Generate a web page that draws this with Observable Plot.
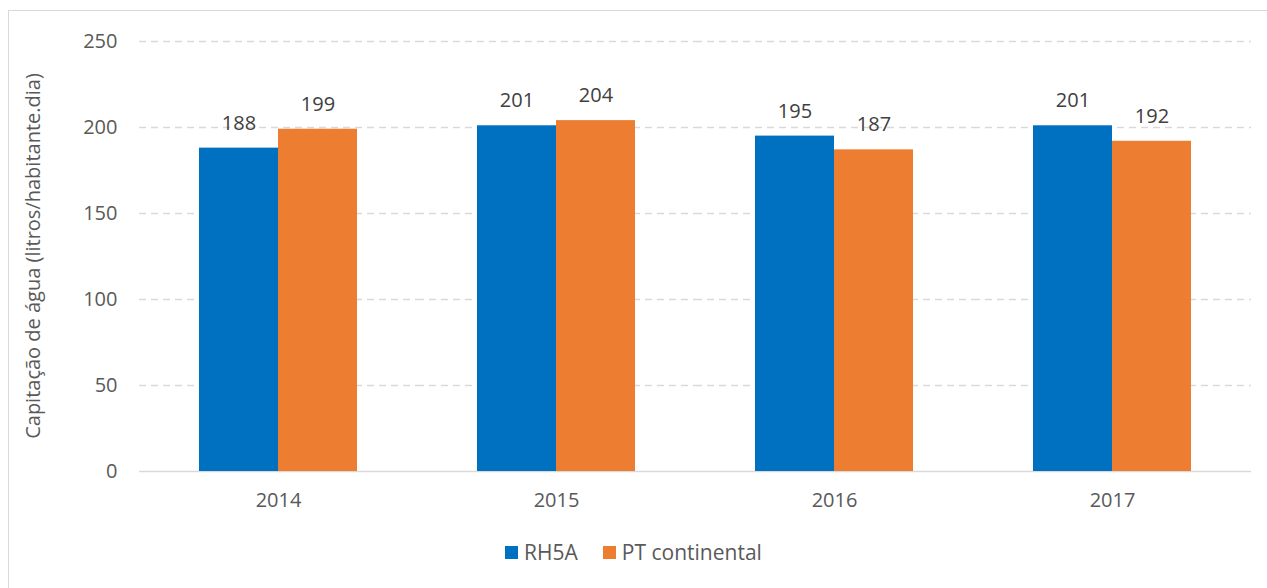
<!DOCTYPE html>
<html>
<head>
<meta charset="utf-8">
<script src="https://cdn.jsdelivr.net/npm/d3@7"></script>
<script src="https://cdn.jsdelivr.net/npm/@observablehq/plot@0.6"></script>
<style>
  html, body { margin: 0; padding: 0; width: 1267px; height: 588px; overflow: hidden; background: #fff; }
  body { position: relative; font-family: "Open Sans", "Noto Sans", sans-serif; color: #595959; }
  #frame { position: absolute; left: 8px; top: 10px; width: 1280px; height: 600px; border: 1px solid #d9d9d9; box-sizing: border-box; }
  #chart { position: absolute; left: 0; top: 0; }
  #legend { position: absolute; left: 0; top: 538px; width: 1267px; display: flex; justify-content: center; gap: 25px; font-size: 21px; color: #595959; }
  .item { display: flex; align-items: center; gap: 6px; }
  .sw { width: 13px; height: 13px; display: inline-block; }
</style>
</head>
<body>
<div id="frame"></div>
<div id="chart"></div>
<div id="legend"></div>
<script>
const years = ["2014", "2015", "2016", "2017"];
const seriesNames = ["RH5A", "PT continental"];
const rh5a = [188, 201, 195, 201];
const ptContinental = [199, 204, 187, 192];
const colors = ["#0070C0", "#ED7D31"];
const yTicks = [0, 50, 100, 150, 200, 250];
const yLabel = "Capitação de água (litros/habitante.dia)";

const data = [];
years.forEach((yr, i) => {
  data.push({year: yr, series: seriesNames[0], value: rh5a[i]});
  data.push({year: yr, series: seriesNames[1], value: ptContinental[i]});
});

const FS = 20;
const plot = Plot.plot({
  width: 1267,
  height: 520,
  marginLeft: 138,
  marginRight: 15,
  marginTop: 41,
  marginBottom: 49,
  style: {fontFamily: '"Open Sans", "Noto Sans", sans-serif', fontSize: FS + "px", color: "#595959", background: "transparent"},
  fx: {domain: years, padding: 0, label: null, axis: null},
  x: {domain: seriesNames, paddingInner: 0, paddingOuter: 0.74, axis: null},
  y: {domain: [0, 250], label: null, axis: null},
  color: {domain: seriesNames, range: colors},
  marks: [
    Plot.ruleY(yTicks.filter(d => d > 0), {stroke: "#d9d9d9", strokeWidth: 1.3, strokeDasharray: "7,5"}),
    Plot.ruleY([0], {stroke: "#d9d9d9", strokeWidth: 1.3}),
    Plot.barY(data, {fx: "year", x: "series", y: "value", fill: "series", inset: 0}),
    Plot.text(data, {fx: "year", x: "series", y: "value", text: d => String(d.value), dy: -25, fill: "#404040", fontSize: FS}),
    Plot.axisY({ticks: yTicks, tickSize: 0, tickPadding: 22, label: null, facetAnchor: "left", fill: "#595959", fontSize: FS}),
    Plot.axisFx({anchor: "bottom", tickSize: 0, tickPadding: 21, label: null, fill: "#595959", fontSize: FS})
  ]
});
document.getElementById("chart").appendChild(plot);

const svg = d3.select(plot);
svg.append("text")
  .attr("transform", `translate(35, ${(41 + 471) / 2}) rotate(-90)`)
  .attr("text-anchor", "middle")
  .attr("dominant-baseline", "middle")
  .attr("fill", "#595959")
  .style("font-size", "20px")
  .text(yLabel);

const legend = document.getElementById("legend");
seriesNames.forEach((s, i) => {
  const item = document.createElement("div");
  item.className = "item";
  const sw = document.createElement("span");
  sw.className = "sw";
  sw.style.background = colors[i];
  const t = document.createElement("span");
  t.textContent = s;
  item.appendChild(sw);
  item.appendChild(t);
  legend.appendChild(item);
});
</script>
</body>
</html>
